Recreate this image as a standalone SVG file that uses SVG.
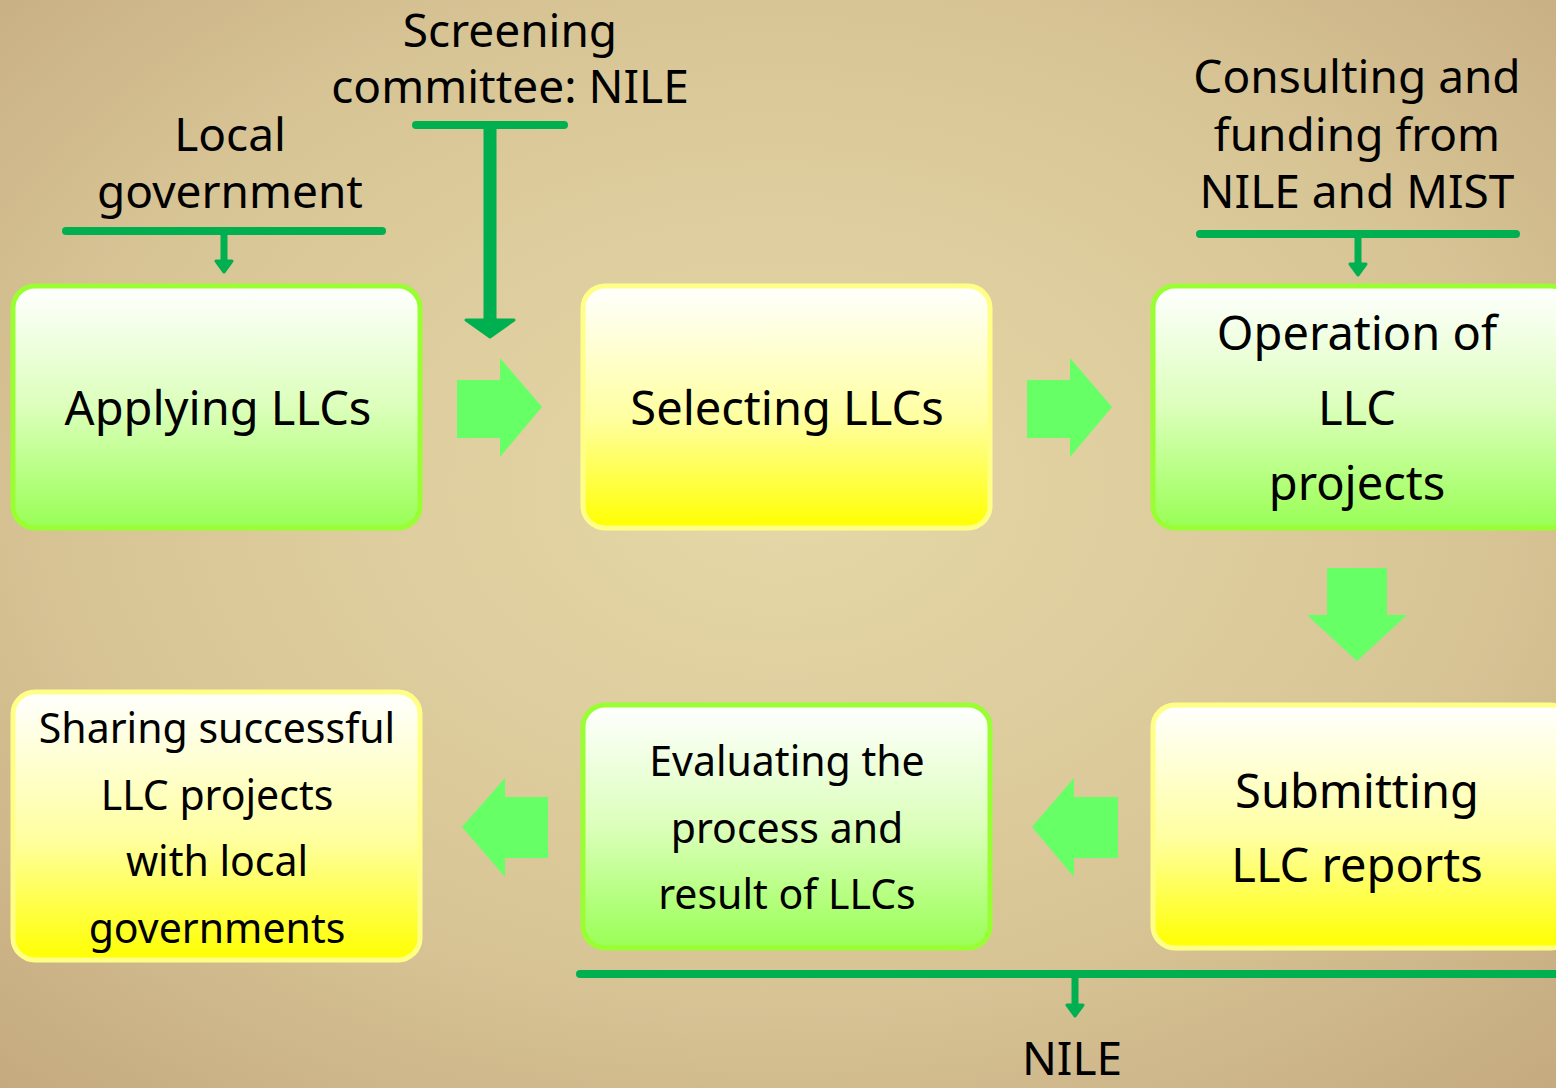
<svg xmlns="http://www.w3.org/2000/svg" width="1556" height="1088" viewBox="0 0 1556 1088">
<defs>
<radialGradient id="bg" cx="0.5" cy="0.45" r="0.75">
<stop offset="0" stop-color="#e6d8a8"/>
<stop offset="0.6" stop-color="#d8c596"/>
<stop offset="1" stop-color="#c4a97e"/>
</radialGradient>
<linearGradient id="gGreen" x1="0" y1="0" x2="0" y2="1">
<stop offset="0" stop-color="#ffffff"/>
<stop offset="0.5" stop-color="#dcffbb"/>
<stop offset="1" stop-color="#99ff55"/>
</linearGradient>
<linearGradient id="gYellow" x1="0" y1="0" x2="0" y2="1">
<stop offset="0" stop-color="#ffffff"/>
<stop offset="0.55" stop-color="#ffffa0"/>
<stop offset="1" stop-color="#ffff00"/>
</linearGradient>
<style>
.gbox{fill:url(#gGreen);stroke:#99ff33;stroke-width:5}
.ybox{fill:url(#gYellow);stroke:#ffff88;stroke-width:5}
.blk{fill:#66ff66}
.bar{stroke:#00b050;stroke-width:8;stroke-linecap:round;fill:none}
.head{fill:#00b050;stroke:#00b050;stroke-width:3;stroke-linejoin:round}
text{font-family:"Noto Sans","Open Sans","DejaVu Sans",sans-serif;fill:#000;text-anchor:middle}
.big{font-size:47px}
.mid{font-size:41px}
.lab{font-size:46px}
</style>
</defs>
<rect width="1556" height="1088" fill="url(#bg)"/>

<g id="connectors">
<line class="bar" x1="66" y1="231" x2="382" y2="231"/>
<line x1="224" y1="231" x2="224" y2="264" stroke="#00b050" stroke-width="7"/>
<polygon class="head" points="216,261 232,261 224,272"/>

<line class="bar" x1="416" y1="125" x2="564" y2="125"/>
<line x1="490" y1="125" x2="490" y2="322" stroke="#00b050" stroke-width="13"/>
<polygon class="head" points="466,320 514,320 490,337"/>

<line class="bar" x1="1200" y1="234" x2="1516" y2="234"/>
<line x1="1358" y1="234" x2="1358" y2="266" stroke="#00b050" stroke-width="7"/>
<polygon class="head" points="1350,264 1366,264 1358,275"/>

<line class="bar" x1="580" y1="974" x2="1560" y2="974"/>
<line x1="1075" y1="974" x2="1075" y2="1007" stroke="#00b050" stroke-width="7"/>
<polygon class="head" points="1067,1005 1083,1005 1075,1016"/>

<polygon class="blk" points="457,380 500,380 500,358 542,407 500,457 500,438 457,438"/>
<polygon class="blk" points="1027,380 1070,380 1070,358 1112,407 1070,457 1070,438 1027,438"/>
<polygon class="blk" points="1327,568 1387,568 1387,615 1407,615 1357,661 1307,615 1327,615"/>
<polygon class="blk" points="1118,797 1074,797 1074,778 1032,827 1074,877 1074,858 1118,858"/>
<polygon class="blk" points="548,797 505,797 505,778 462,827 505,877 505,858 548,858"/>
</g>

<g id="label-local">
<text class="lab" x="230" y="151">Local</text>
<text class="lab" x="230" y="208">government</text>
</g>
<g id="label-screening">
<text class="lab" x="510" y="47">Screening</text>
<text class="lab" x="510" y="103">committee: NILE</text>
</g>
<g id="label-consulting">
<text class="lab" x="1357" y="93">Consulting and</text>
<text class="lab" x="1357" y="151">funding from</text>
<text class="lab" x="1357" y="208">NILE and MIST</text>
</g>
<g id="label-nile">
<text class="lab" x="1072" y="1075">NILE</text>
</g>

<g id="node-applying">
<rect class="gbox" x="13" y="286" width="407" height="242" rx="22"/>
<text class="big" x="218" y="425">Applying LLCs</text>
</g>
<g id="node-selecting">
<rect class="ybox" x="583" y="286" width="407" height="242" rx="22"/>
<text class="big" x="787" y="425">Selecting LLCs</text>
</g>
<g id="node-operation">
<rect class="gbox" x="1153" y="286" width="420" height="242" rx="22"/>
<text class="big" x="1357" y="350">Operation of</text>
<text class="big" x="1357" y="425">LLC</text>
<text class="big" x="1357" y="500">projects</text>
</g>
<g id="node-submitting">
<rect class="ybox" x="1153" y="705" width="420" height="243" rx="22"/>
<text class="big" x="1357" y="808">Submitting</text>
<text class="big" x="1357" y="882">LLC reports</text>
</g>
<g id="node-evaluating">
<rect class="gbox" x="583" y="705" width="407" height="243" rx="22"/>
<text class="mid" x="787" y="776">Evaluating the</text>
<text class="mid" x="787" y="843">process and</text>
<text class="mid" x="787" y="909">result of LLCs</text>
</g>
<g id="node-sharing">
<rect class="ybox" x="13" y="692" width="407" height="268" rx="22"/>
<text class="mid" x="217" y="743">Sharing successful</text>
<text class="mid" x="217" y="810">LLC projects</text>
<text class="mid" x="217" y="876">with local</text>
<text class="mid" x="217" y="943">governments</text>
</g>
</svg>
